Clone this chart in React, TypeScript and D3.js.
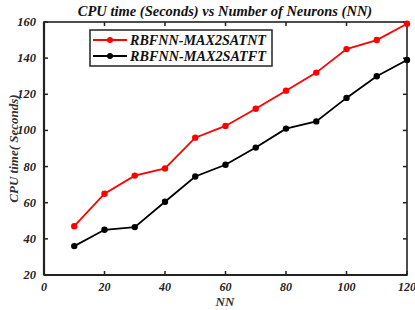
import React, { useEffect, useRef } from 'react';
import * as d3 from 'd3';

const NN = [10, 20, 30, 40, 50, 60, 70, 80, 90, 100, 110, 120];
const NT_TIME = [47, 65, 75, 79, 96, 102.5, 112, 122, 132, 145, 150, 159];
const FT_TIME = [36, 45, 46.5, 60.5, 74.5, 81, 90.5, 101, 105, 118, 130, 139];
const X_TICKS = [0, 20, 40, 60, 80, 100, 120];
const Y_TICKS = [20, 40, 60, 80, 100, 120, 140, 160];

const SERIES = [
  { name: 'RBFNN-MAX2SATNT', values: NT_TIME, color: '#ff0000' },
  { name: 'RBFNN-MAX2SATFT', values: FT_TIME, color: '#000000' },
];

const App: React.FC = () => {
  const svgRef = useRef<SVGSVGElement>(null);
  const WIDTH = 415;
  const HEIGHT = 310;
  const MARGIN = { top: 22, right: 8, bottom: 35, left: 44 };

  useEffect(() => {
    if (!svgRef.current) return;
    const svg = d3.select(svgRef.current);
    svg.selectAll('*').remove();

    const innerWidth = WIDTH - MARGIN.left - MARGIN.right;
    const innerHeight = HEIGHT - MARGIN.top - MARGIN.bottom;
    const font = '"Liberation Serif", "Times New Roman", serif';

    const x = d3.scaleLinear().domain([0, 120]).range([0, innerWidth]);
    const y = d3.scaleLinear().domain([20, 160]).range([innerHeight, 0]);

    const g = svg.append('g').attr('transform', `translate(${MARGIN.left},${MARGIN.top})`);

    // frame: heavy left/bottom, thinner top/right
    g.append('rect')
      .attr('width', innerWidth).attr('height', innerHeight)
      .attr('fill', 'none').attr('stroke', '#222').attr('stroke-width', 1.6);
    g.append('line').attr('x1', 0).attr('x2', 0).attr('y1', 0).attr('y2', innerHeight)
      .attr('stroke', '#222').attr('stroke-width', 2.2);
    g.append('line').attr('x1', 0).attr('x2', innerWidth).attr('y1', innerHeight).attr('y2', innerHeight)
      .attr('stroke', '#222').attr('stroke-width', 2.2);

    // inward ticks on all four sides
    const tickLen = 4;
    X_TICKS.forEach(t => {
      g.append('line').attr('x1', x(t)).attr('x2', x(t)).attr('y1', innerHeight).attr('y2', innerHeight - tickLen)
        .attr('stroke', '#222').attr('stroke-width', 1.5);
      g.append('line').attr('x1', x(t)).attr('x2', x(t)).attr('y1', 0).attr('y2', tickLen)
        .attr('stroke', '#222').attr('stroke-width', 1.5);
      g.append('text').attr('x', x(t)).attr('y', innerHeight + 16)
        .attr('text-anchor', 'middle').attr('font-family', font)
        .attr('font-style', 'italic').attr('font-weight', 'bold').attr('font-size', 12)
        .attr('fill', '#222').text(t);
    });
    Y_TICKS.forEach(t => {
      g.append('line').attr('x1', 0).attr('x2', tickLen).attr('y1', y(t)).attr('y2', y(t))
        .attr('stroke', '#222').attr('stroke-width', 1.5);
      g.append('line').attr('x1', innerWidth).attr('x2', innerWidth - tickLen).attr('y1', y(t)).attr('y2', y(t))
        .attr('stroke', '#222').attr('stroke-width', 1.5);
      g.append('text').attr('x', -8).attr('y', y(t) + 4)
        .attr('text-anchor', 'end').attr('font-family', font)
        .attr('font-style', 'italic').attr('font-weight', 'bold').attr('font-size', 12.5)
        .attr('fill', '#222').text(t);
    });

    // series lines and markers
    const line = d3.line<number>().x((d, i) => x(NN[i])).y(d => y(d));
    SERIES.forEach(s => {
      g.append('path').datum(s.values)
        .attr('fill', 'none').attr('stroke', s.color).attr('stroke-width', 1.8)
        .attr('d', line);
      g.selectAll(null).data(s.values).enter().append('circle')
        .attr('cx', (d, i) => x(NN[i])).attr('cy', d => y(d)).attr('r', 3.2)
        .attr('fill', s.color);
    });

    // legend
    const lg = g.append('g').attr('transform', `translate(${90 - MARGIN.left},${30 - MARGIN.top})`);
    lg.append('rect').attr('width', 182).attr('height', 36)
      .attr('fill', '#fff').attr('stroke', '#222').attr('stroke-width', 1.5);
    SERIES.forEach((s, i) => {
      const ly = 10 + i * 16;
      lg.append('line').attr('x1', 3).attr('x2', 37).attr('y1', ly).attr('y2', ly)
        .attr('stroke', s.color).attr('stroke-width', 1.8);
      lg.append('circle').attr('cx', 20).attr('cy', ly).attr('r', 3).attr('fill', s.color);
      lg.append('text').attr('x', 40).attr('y', ly + 5)
        .attr('font-family', font).attr('font-style', 'italic').attr('font-weight', 'bold')
        .attr('font-size', 14).attr('textLength', 136).attr('lengthAdjust', 'spacingAndGlyphs')
        .attr('fill', '#111').text(s.name);
    });

    // titles
    svg.append('text').attr('x', 225).attr('y', 16).attr('text-anchor', 'middle')
      .attr('font-family', font).attr('font-style', 'italic').attr('font-weight', 'bold')
      .attr('font-size', 14.5).attr('fill', '#111').text('CPU time (Seconds) vs Number of Neurons (NN)');
    svg.append('text').attr('x', 225).attr('y', 306).attr('text-anchor', 'middle')
      .attr('font-family', font).attr('font-style', 'italic').attr('font-weight', 'bold')
      .attr('font-size', 13).attr('fill', '#333').text('NN');
    svg.append('text')
      .attr('transform', `translate(18,${MARGIN.top + innerHeight / 2}) rotate(-90)`)
      .attr('text-anchor', 'middle')
      .attr('font-family', font).attr('font-style', 'italic').attr('font-weight', 'bold')
      .attr('font-size', 13).attr('fill', '#333').text('CPU time( Seconds)');
  }, []);

  return (
    <svg
      ref={svgRef}
      width={WIDTH}
      height={HEIGHT}
      style={{ position: 'absolute', left: 0, top: 0, background: '#fff' }}
    />
  );
};

export default App;
